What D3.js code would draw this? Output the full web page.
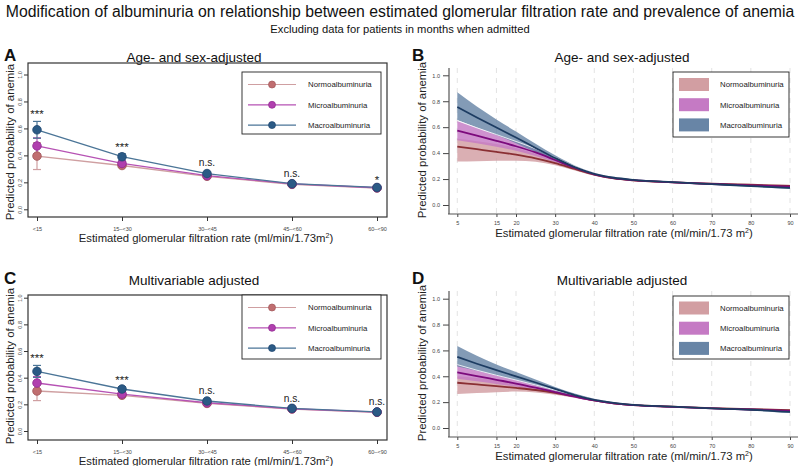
<!DOCTYPE html>
<html><head><meta charset="utf-8">
<script src="https://cdn.jsdelivr.net/npm/d3@7"></script>
<style>body{margin:0;background:#fff}svg{display:block;font-family:"Liberation Sans",Arial,sans-serif}</style>
</head><body><svg id="c" width="800" height="466"></svg>
<script>
// ---------- DATA ----------
const seriesNames = ["Normoalbuminuria","Microalbuminuria","Macroalbuminuria"];
const categories = ["<15","15–<30","30–<45","45–<60","60–<90"];
const yTicks = [0,0.2,0.4,0.6,0.8,1.0];
const gfrTicks = [5,15,20,30,40,50,60,70,80,90];

// Panel A (age- and sex-adjusted, categorical)
const normoA = [0.395,0.325,0.245,0.185,0.158];
const normoA_lo = [0.295,0.310,0.237,0.180,0.154];
const normoA_hi = [0.495,0.340,0.253,0.190,0.162];
const microA = [0.470,0.340,0.250,0.188,0.160];
const microA_lo = [0.410,0.325,0.242,0.183,0.156];
const microA_hi = [0.530,0.355,0.258,0.193,0.164];
const macroA = [0.590,0.390,0.265,0.190,0.162];
const macroA_lo = [0.527,0.365,0.255,0.184,0.157];
const macroA_hi = [0.652,0.412,0.275,0.196,0.167];
const sigA = ["***","***","n.s.","n.s.","*"];

// Panel C (multivariable adjusted, categorical)
const normoC = [0.300,0.268,0.207,0.165,0.140];
const normoC_lo = [0.228,0.255,0.200,0.160,0.136];
const normoC_hi = [0.372,0.281,0.214,0.170,0.144];
const microC = [0.360,0.277,0.212,0.167,0.142];
const microC_lo = [0.312,0.264,0.205,0.162,0.138];
const microC_hi = [0.408,0.290,0.219,0.172,0.146];
const macroC = [0.447,0.315,0.225,0.170,0.143];
const macroC_lo = [0.402,0.298,0.216,0.164,0.138];
const macroC_hi = [0.492,0.332,0.234,0.176,0.148];
const sigC = ["***","***","n.s.","n.s.","n.s."];

// Panels B and D (continuous eGFR)
const gfr = [5,10,15,20,25,30,35,40,45,50,60,70,80,90];
const normoB    = [0.450,0.430,0.410,0.388,0.360,0.323,0.278,0.235,0.205,0.190,0.175,0.164,0.156,0.148];
const normoB_lo = [0.335,0.338,0.341,0.342,0.334,0.306,0.266,0.226,0.198,0.184,0.170,0.159,0.150,0.140];
const normoB_hi = [0.510,0.492,0.470,0.440,0.395,0.343,0.291,0.244,0.212,0.197,0.180,0.169,0.162,0.156];
const microB    = [0.573,0.535,0.495,0.453,0.405,0.347,0.287,0.237,0.207,0.192,0.175,0.162,0.152,0.142];
const microB_lo = [0.500,0.476,0.449,0.418,0.378,0.329,0.275,0.229,0.200,0.186,0.170,0.157,0.146,0.135];
const microB_hi = [0.650,0.595,0.543,0.490,0.434,0.366,0.299,0.245,0.214,0.198,0.180,0.167,0.158,0.149];
const macroB    = [0.755,0.675,0.597,0.520,0.440,0.362,0.292,0.240,0.210,0.194,0.176,0.161,0.146,0.132];
const macroB_lo = [0.655,0.597,0.540,0.477,0.409,0.342,0.280,0.232,0.203,0.188,0.171,0.156,0.140,0.123];
const macroB_hi = [0.870,0.760,0.660,0.566,0.472,0.383,0.305,0.249,0.217,0.200,0.181,0.166,0.152,0.141];

const normoD    = [0.350,0.337,0.324,0.310,0.294,0.272,0.244,0.213,0.190,0.177,0.165,0.153,0.145,0.139];
const normoD_lo = [0.262,0.270,0.277,0.282,0.275,0.258,0.234,0.206,0.184,0.172,0.160,0.148,0.139,0.131];
const normoD_hi = [0.400,0.387,0.371,0.346,0.316,0.287,0.255,0.221,0.196,0.182,0.170,0.158,0.151,0.147];
const microD    = [0.430,0.402,0.373,0.344,0.312,0.278,0.244,0.213,0.190,0.177,0.164,0.152,0.143,0.133];
const microD_lo = [0.380,0.361,0.340,0.319,0.293,0.264,0.234,0.206,0.184,0.172,0.159,0.147,0.137,0.126];
const microD_hi = [0.490,0.447,0.408,0.371,0.333,0.293,0.254,0.220,0.196,0.182,0.169,0.157,0.149,0.140];
const macroD    = [0.550,0.497,0.447,0.400,0.352,0.302,0.255,0.218,0.194,0.179,0.165,0.152,0.141,0.124];
const macroD_lo = [0.475,0.442,0.406,0.369,0.329,0.286,0.244,0.210,0.188,0.174,0.160,0.147,0.135,0.116];
const macroD_hi = [0.635,0.558,0.492,0.433,0.376,0.318,0.266,0.226,0.200,0.184,0.170,0.157,0.148,0.133];

// ---------- STYLE ----------
const lineCol = ["#cf9fa1","#b652b4","#4b7597"];
const markCol = ["#c06e70","#b03fae","#2b5a85"];
const markStroke = ["#a05558","#902890","#1f4670"];
const bandCol = ["#d29ea2","#c57ac4","#6885a6"];
const curveCol = ["#8a2f33","#7c0a7c","#1d3c62"];

const svg = d3.select("#c");
const FONT = '"Liberation Sans",Arial,sans-serif';

svg.append("text").attr("x",400).attr("y",17).attr("text-anchor","middle")
  .attr("font-size",15.8).attr("fill","#111")
  .text("Modification of albuminuria on relationship between estimated glomerular filtration rate and prevalence of anemia");
svg.append("text").attr("x",400).attr("y",33).attr("text-anchor","middle")
  .attr("font-size",11.2).attr("fill","#111")
  .text("Excluding data for patients in months when admitted");

function yTitle(x, yc){
  svg.append("text").attr("transform",`translate(${x},${yc}) rotate(-90)`)
    .attr("text-anchor","middle").attr("font-size",11.4).attr("fill","#222")
    .text("Predicted probability of anemia");
}
function panelLetter(t,x,y){
  svg.append("text").attr("x",x).attr("y",y).attr("font-size",17).attr("font-weight","bold").attr("fill","#111").text(t);
}
function panelTitle(t,x,y){
  svg.append("text").attr("x",x).attr("y",y).attr("text-anchor","middle").attr("font-size",13.5).attr("fill","#111").text(t);
}

// ---------- Categorical panels ----------
function catPanel(o){
  const g = svg.append("g");
  const x = d3.scalePoint().domain(categories).range([37,377]);
  const y = d3.scaleLinear().domain([0,1]).range([o.y0v,o.y1v]);
  g.append("rect").attr("x",28).attr("y",o.top).attr("width",359).attr("height",o.bottom-o.top)
    .attr("fill","none").attr("stroke","#333").attr("stroke-width",1.2);
  const ya = g.append("g").attr("transform","translate(28,0)")
    .call(d3.axisLeft(y).tickValues(yTicks).tickSize(4).tickFormat(d3.format(".1f")));
  ya.select(".domain").remove();
  ya.selectAll("line").attr("stroke","#333");
  ya.selectAll("text").attr("font-size",5.5).attr("fill","#444").attr("font-family",FONT)
    .attr("text-anchor","middle").attr("x",0).attr("y",0).attr("dy","0")
    .attr("transform","translate(-6,0) rotate(-90)");
  const xa = g.append("g").attr("transform",`translate(0,${o.bottom})`)
    .call(d3.axisBottom(x).tickSize(4).tickPadding(6));
  xa.select(".domain").remove();
  xa.selectAll("line").attr("stroke","#333");
  xa.selectAll("text").attr("font-size",5.5).attr("fill","#444").attr("font-family",FONT);
  svg.append("text").attr("x",206).attr("y",o.bottom+25).attr("text-anchor","middle")
    .attr("font-size",11.3).attr("fill","#222")
    .html('Estimated glomerular filtration rate (ml/min/1.73m<tspan font-size="7" dy="-4">2</tspan><tspan dy="4">)</tspan>');

  const data = o.series;
  const line = d3.line().x((d,i)=>x(categories[i])).y(d=>y(d));
  data.forEach((s,k)=>{
    g.append("path").attr("d",line(s.v)).attr("fill","none").attr("stroke",lineCol[k]).attr("stroke-width",1.3);
  });
  data.forEach((s,k)=>{
    s.v.forEach((v,i)=>{
      const cx = x(categories[i]);
      g.append("line").attr("x1",cx).attr("x2",cx).attr("y1",y(s.lo[i])).attr("y2",y(s.hi[i])).attr("stroke",lineCol[k]).attr("stroke-width",1.2);
      [s.lo[i],s.hi[i]].forEach(e=>g.append("line").attr("x1",cx-4).attr("x2",cx+4).attr("y1",y(e)).attr("y2",y(e)).attr("stroke",lineCol[k]).attr("stroke-width",1.2));
    });
  });
  data.forEach((s,k)=>{
    s.v.forEach((v,i)=>{
      g.append("circle").attr("cx",x(categories[i])).attr("cy",y(v)).attr("r",4.3)
        .attr("fill",markCol[k]).attr("stroke",markStroke[k]).attr("stroke-width",0.8);
    });
  });
  o.sig.forEach((t,i)=>{
    const top = d3.max(data, s=>s.hi[i]);
    g.append("text").attr("x",x(categories[i])).attr("y",y(top)-(t.startsWith("*")?3:6))
      .attr("text-anchor","middle").attr("font-size",t.startsWith("*")?11.5:10.2).attr("fill","#222").text(t);
  });
  const L = o.legend;
  g.append("rect").attr("x",242).attr("y",L.top).attr("width",139).attr("height",L.h)
    .attr("fill","#fff").attr("stroke","#222").attr("stroke-width",0.9);
  seriesNames.forEach((n,k)=>{
    const yy = L.top + 12.5 + k*20.3;
    g.append("line").attr("x1",248).attr("x2",296).attr("y1",yy).attr("y2",yy).attr("stroke",lineCol[k]).attr("stroke-width",1.2);
    g.append("circle").attr("cx",272).attr("cy",yy).attr("r",3.5).attr("fill",markCol[k]).attr("stroke",markStroke[k]).attr("stroke-width",0.7);
    g.append("text").attr("x",308).attr("y",yy+2.8).attr("font-size",7.8).attr("fill","#222").text(n);
  });
}

// ---------- Continuous panels ----------
function contPanel(o){
  const g = svg.append("g");
  const x = d3.scaleLinear().domain([5,90]).range([457.3,790]);
  const y = d3.scaleLinear().domain([0,1]).range([o.y0v,o.y1v]);
  gfrTicks.forEach(t=>{
    g.append("line").attr("x1",x(t)).attr("x2",x(t)).attr("y1",o.axTop).attr("y2",o.bottom)
      .attr("stroke","#dcdcdc").attr("stroke-width",0.8).attr("stroke-dasharray","5,5");
  });
  const ya = g.append("g").attr("transform","translate(449,0)")
    .call(d3.axisLeft(y).tickValues(yTicks).tickSize(6).tickPadding(3).tickFormat(d3.format(".1f")));
  ya.select(".domain").remove();
  ya.selectAll("line").attr("stroke","#444");
  ya.selectAll("text").attr("font-size",5.5).attr("fill","#444").attr("font-family",FONT);
  g.append("line").attr("x1",449).attr("x2",449).attr("y1",o.axTop).attr("y2",o.bottom).attr("stroke","#555").attr("stroke-width",1.2);
  const xa = g.append("g").attr("transform",`translate(0,${o.bottom})`)
    .call(d3.axisBottom(x).tickValues(gfrTicks).tickSize(3).tickPadding(4));
  xa.select(".domain").remove();
  xa.selectAll("line").attr("stroke","#444");
  xa.selectAll("text").attr("font-size",5.5).attr("fill","#444").attr("font-family",FONT);
  g.append("line").attr("x1",448).attr("x2",798).attr("y1",o.bottom).attr("y2",o.bottom).attr("stroke","#555").attr("stroke-width",1.2);
  svg.append("text").attr("x",624).attr("y",o.bottom+23).attr("text-anchor","middle")
    .attr("font-size",11.3).attr("fill","#222")
    .html('Estimated glomerular filtration rate (ml/min/1.73 m<tspan font-size="7" dy="-4">2</tspan><tspan dy="4">)</tspan>');

  const area = d3.area().x((d,i)=>x(gfr[i])).y0(d=>y(d[0])).y1(d=>y(d[1])).curve(d3.curveMonotoneX);
  const line = d3.line().x((d,i)=>x(gfr[i])).y(d=>y(d)).curve(d3.curveMonotoneX);
  o.series.forEach((s,k)=>{
    g.append("path").attr("d",area(s.lo.map((l,i)=>[l,s.hi[i]]))).attr("fill",bandCol[k]).attr("fill-opacity",0.82);
  });
  g.append("path").attr("d",line(o.series[1].hi)).attr("fill","none").attr("stroke","#fff").attr("stroke-width",0.9).attr("stroke-opacity",0.9);
  o.series.forEach((s,k)=>{
    g.append("path").attr("d",line(s.v)).attr("fill","none").attr("stroke",curveCol[k]).attr("stroke-width",1.8);
  });
  const L = o.legend;
  g.append("rect").attr("x",673).attr("y",L.top).attr("width",116).attr("height",L.h)
    .attr("fill","#fff").attr("stroke","#222").attr("stroke-width",0.9);
  seriesNames.forEach((n,k)=>{
    const yy = L.top + L.first + k*20.2;
    g.append("rect").attr("x",679).attr("y",yy-6.5).attr("width",30).attr("height",13).attr("fill",bandCol[k]);
    g.append("text").attr("x",720).attr("y",yy+2.8).attr("font-size",7.8).attr("fill","#222").text(n);
  });
}

// Panel A
panelLetter("A",4,61); panelTitle("Age- and sex-adjusted",194,62); yTitle(14,142);
catPanel({top:63,bottom:217,y0v:209.3,y1v:74.5,sig:sigA,legend:{top:72,h:62},
  series:[{v:normoA,lo:normoA_lo,hi:normoA_hi},{v:microA,lo:microA_lo,hi:microA_hi},{v:macroA,lo:macroA_lo,hi:macroA_hi}]});
// Panel C
panelLetter("C",4,284); panelTitle("Multivariable adjusted",194,285); yTitle(14,366);
catPanel({top:295,bottom:440,y0v:431,y1v:297.7,sig:sigC,legend:{top:295,h:64},
  series:[{v:normoC,lo:normoC_lo,hi:normoC_hi},{v:microC,lo:microC_lo,hi:microC_hi},{v:macroC,lo:macroC_lo,hi:macroC_hi}]});
// Panel B
panelLetter("B",412,61); panelTitle("Age- and sex-adjusted",622,62); yTitle(426,140);
contPanel({axTop:68,bottom:214,y0v:205,y1v:75.3,legend:{top:72,h:65,first:12.5},
  series:[{v:normoB,lo:normoB_lo,hi:normoB_hi},{v:microB,lo:microB_lo,hi:microB_hi},{v:macroB,lo:macroB_lo,hi:macroB_hi}]});
// Panel D
panelLetter("D",412,284); panelTitle("Multivariable adjusted",622,285); yTitle(426,363);
contPanel({axTop:291,bottom:437,y0v:428,y1v:298.7,legend:{top:296,h:63,first:12},
  series:[{v:normoD,lo:normoD_lo,hi:normoD_hi},{v:microD,lo:microD_lo,hi:microD_hi},{v:macroD,lo:macroD_lo,hi:macroD_hi}]});
</script></body></html>
